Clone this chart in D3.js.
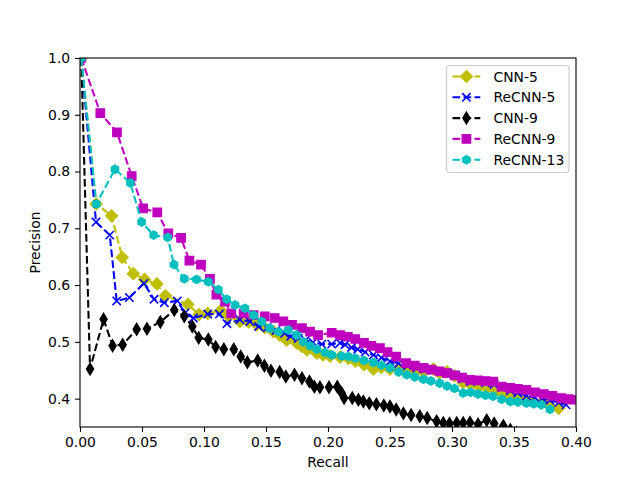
<!DOCTYPE html>
<html>
<head>
<meta charset="utf-8">
<script src="https://cdn.jsdelivr.net/npm/d3@7"></script>
<style>
  body { margin: 0; background: #fff; }
  svg { font-family: "DejaVu Sans", sans-serif; }
</style>
</head>
<body>
<svg id="chart" width="640" height="480"></svg>
<script>
// Series names (legend order)
const seriesNames = ["CNN-5", "ReCNN-5", "CNN-9", "ReCNN-9", "ReCNN-13"];

// CNN-5
const cnn5Recall = [0.001, 0.013, 0.0255, 0.034, 0.043, 0.052, 0.062, 0.069, 0.087, 0.096, 0.103, 0.1135, 0.12, 0.129, 0.136, 0.1425, 0.149, 0.156, 0.161, 0.1667, 0.1747, 0.179, 0.183, 0.191, 0.196, 0.2016, 0.2097, 0.2164, 0.222, 0.229, 0.2366, 0.243, 0.25, 0.257, 0.263, 0.27, 0.277, 0.285, 0.29, 0.296, 0.302, 0.309, 0.315, 0.322, 0.328, 0.335, 0.341, 0.347, 0.353, 0.359, 0.365, 0.372, 0.378, 0.386];
const cnn5Precision = [1.0, 0.743, 0.722, 0.649, 0.620, 0.610, 0.602, 0.581, 0.566, 0.548, 0.550, 0.555, 0.545, 0.536, 0.535, 0.530, 0.525, 0.518, 0.512, 0.503, 0.498, 0.492, 0.486, 0.480, 0.477, 0.475, 0.473, 0.471, 0.466, 0.460, 0.452, 0.455, 0.452, 0.453, 0.448, 0.447, 0.447, 0.452, 0.445, 0.447, 0.440, 0.428, 0.425, 0.421, 0.419, 0.413, 0.408, 0.404, 0.401, 0.398, 0.395, 0.392, 0.389, 0.383];

// ReCNN-5
const recnn5Recall = [0.001, 0.0129, 0.024, 0.0296, 0.0398, 0.0516, 0.0597, 0.068, 0.0785, 0.0847, 0.0914, 0.103, 0.1124, 0.1185, 0.129, 0.137, 0.144, 0.151, 0.158, 0.165, 0.17, 0.176, 0.182, 0.188, 0.195, 0.203, 0.2097, 0.2137, 0.219, 0.224, 0.23, 0.2366, 0.243, 0.25, 0.257, 0.264, 0.2715, 0.278, 0.284, 0.29, 0.297, 0.303, 0.309, 0.315, 0.321, 0.327, 0.334, 0.34, 0.347, 0.353, 0.36, 0.367, 0.373, 0.379, 0.386, 0.392];
const recnn5Precision = [1.0, 0.711, 0.688, 0.572, 0.578, 0.603, 0.575, 0.569, 0.572, 0.551, 0.542, 0.549, 0.549, 0.532, 0.539, 0.536, 0.527, 0.525, 0.520, 0.515, 0.510, 0.506, 0.503, 0.499, 0.496, 0.496, 0.498, 0.495, 0.490, 0.487, 0.482, 0.477, 0.472, 0.466, 0.462, 0.458, 0.454, 0.452, 0.450, 0.448, 0.444, 0.441, 0.435, 0.430, 0.431, 0.428, 0.425, 0.420, 0.414, 0.410, 0.405, 0.402, 0.400, 0.397, 0.393, 0.389];

// CNN-9
const cnn9Recall = [0.001, 0.0081, 0.019, 0.0263, 0.0344, 0.0457, 0.054, 0.0648, 0.076, 0.0841, 0.0906, 0.0957, 0.1035, 0.1094, 0.116, 0.124, 0.1296, 0.135, 0.1433, 0.1487, 0.154, 0.161, 0.166, 0.173, 0.179, 0.185, 0.189, 0.1935, 0.2008, 0.2075, 0.211, 0.213, 0.2196, 0.2245, 0.2285, 0.2333, 0.239, 0.245, 0.25, 0.255, 0.2608, 0.267, 0.274, 0.28, 0.2876, 0.293, 0.298, 0.3038, 0.309, 0.3145, 0.321, 0.328, 0.334, 0.3414, 0.347, 0.352];
const cnn9Precision = [1.0, 0.452, 0.540, 0.493, 0.495, 0.522, 0.523, 0.535, 0.556, 0.545, 0.527, 0.507, 0.504, 0.491, 0.487, 0.487, 0.474, 0.464, 0.467, 0.458, 0.449, 0.447, 0.439, 0.442, 0.436, 0.430, 0.421, 0.420, 0.420, 0.421, 0.410, 0.401, 0.401, 0.398, 0.395, 0.392, 0.390, 0.388, 0.386, 0.381, 0.374, 0.371, 0.369, 0.366, 0.360, 0.357, 0.356, 0.357, 0.357, 0.358, 0.355, 0.362, 0.356, 0.352, 0.345, 0.340];

// ReCNN-9
const recnn9Recall = [0.001, 0.0164, 0.0298, 0.0417, 0.051, 0.0623, 0.0712, 0.0815, 0.0882, 0.0976, 0.1048, 0.110, 0.117, 0.122, 0.132, 0.140, 0.149, 0.157, 0.164, 0.171, 0.179, 0.1855, 0.192, 0.203, 0.2097, 0.216, 0.222, 0.229, 0.235, 0.2419, 0.248, 0.255, 0.263, 0.27, 0.277, 0.283, 0.29, 0.296, 0.302, 0.308, 0.3145, 0.321, 0.327, 0.3333, 0.34, 0.347, 0.353, 0.36, 0.367, 0.374, 0.381, 0.388, 0.394, 0.398];
const recnn9Precision = [1.0, 0.903, 0.869, 0.792, 0.735, 0.728, 0.691, 0.683, 0.643, 0.636, 0.611, 0.583, 0.571, 0.550, 0.550, 0.547, 0.545, 0.542, 0.536, 0.530, 0.524, 0.518, 0.512, 0.516, 0.512, 0.509, 0.505, 0.498, 0.493, 0.489, 0.482, 0.474, 0.4625, 0.458, 0.454, 0.451, 0.448, 0.445, 0.441, 0.437, 0.433, 0.432, 0.431, 0.430, 0.421, 0.419, 0.417, 0.4155, 0.411, 0.408, 0.405, 0.401, 0.399, 0.398];

// ReCNN-13
const recnn13Recall = [0.001, 0.0132, 0.0282, 0.0406, 0.0497, 0.0594, 0.0707, 0.0758, 0.0841, 0.094, 0.1035, 0.1116, 0.1183, 0.125, 0.133, 0.14, 0.1465, 0.153, 0.16, 0.168, 0.1747, 0.18, 0.1855, 0.191, 0.1976, 0.203, 0.211, 0.2164, 0.222, 0.229, 0.2366, 0.243, 0.25, 0.257, 0.2635, 0.27, 0.277, 0.283, 0.29, 0.296, 0.302, 0.309, 0.315, 0.321, 0.327, 0.333, 0.34, 0.347, 0.353, 0.36, 0.366, 0.372, 0.379];
const recnn13Precision = [1.0, 0.743, 0.804, 0.780, 0.711, 0.688, 0.684, 0.636, 0.611, 0.610, 0.606, 0.592, 0.575, 0.565, 0.559, 0.547, 0.536, 0.524, 0.518, 0.521, 0.512, 0.500, 0.493, 0.487, 0.481, 0.477, 0.475, 0.474, 0.471, 0.467, 0.4636, 0.459, 0.454, 0.447, 0.442, 0.438, 0.434, 0.431, 0.427, 0.422, 0.418, 0.410, 0.411, 0.408, 0.406, 0.404, 0.399, 0.395, 0.394, 0.392, 0.391, 0.389, 0.381];

// Tick values
const xTicks = [0, 0.05, 0.10, 0.15, 0.20, 0.25, 0.30, 0.35, 0.40];
const yTicks = [0.4, 0.5, 0.6, 0.7, 0.8, 0.9, 1.0];

const series = [
    { name: seriesNames[0], x: cnn5Recall, y: cnn5Precision, color: "#bfbf00", marker: "D" },
    { name: seriesNames[1], x: recnn5Recall, y: recnn5Precision, color: "#0000ff", marker: "x" },
    { name: seriesNames[2], x: cnn9Recall, y: cnn9Precision, color: "#000000", marker: "d" },
    { name: seriesNames[3], x: recnn9Recall, y: recnn9Precision, color: "#bf00bf", marker: "s" },
    { name: seriesNames[4], x: recnn13Recall, y: recnn13Precision, color: "#00bfbf", marker: "h" }
];

const svg = d3.select("svg#chart");
const plotLeft = 80, plotRight = 576, plotTop = 58, plotBottom = 427;

const xScale = d3.scaleLinear().domain([0, 0.4]).range([plotLeft, plotRight]);
const yScale = d3.scaleLinear().domain([0.35, 1.0]).range([plotBottom, plotTop]);

// marker size in px (matplotlib 6pt at 100dpi)
const ms = 8.33;

// marker path centred on 0,0
function markerPath(type) {
    const h = ms / 2;
    if (type === "s") return `M${-h},${-h}H${h}V${h}H${-h}Z`;
    if (type === "D") {
        const r = ms * Math.SQRT1_2;
        return `M0,${-r}L${r},0L0,${r}L${-r},0Z`;
    }
    if (type === "d") {
        const r = ms * Math.SQRT1_2;
        return `M0,${-r}L${r * 0.6},0L0,${r}L${-r * 0.6},0Z`;
    }
    if (type === "x") return `M${-h},${-h}L${h},${h}M${-h},${h}L${h},${-h}`;
    if (type === "h") {
        const pts = d3.range(6).map(i => {
            const a = -Math.PI / 2 + i * Math.PI / 3;
            return [h * Math.cos(a), h * Math.sin(a)];
        });
        return "M" + pts.map(p => p.join(",")).join("L") + "Z";
    }
    return "";
}

// clip area
svg.append("defs").append("clipPath").attr("id", "plot-clip")
    .append("rect")
    .attr("x", plotLeft).attr("y", plotTop)
    .attr("width", plotRight - plotLeft).attr("height", plotBottom - plotTop);

const plot = svg.append("g").attr("clip-path", "url(#plot-clip)");

const line = d3.line()
    .x(d => xScale(d[0]))
    .y(d => yScale(d[1]));

series.forEach(s => {
    const pts = s.x.map((v, i) => [v, s.y[i]]);
    const g = plot.append("g").attr("class", "series");

    g.append("path")
        .datum(pts)
        .attr("d", line)
        .attr("fill", "none")
        .attr("stroke", s.color)
        .attr("stroke-width", 2.08)
        .attr("stroke-dasharray", "7.7,3.3");

    g.selectAll("path.marker")
        .data(pts)
        .enter()
        .append("path")
        .attr("class", "marker")
        .attr("transform", d => `translate(${xScale(d[0])},${yScale(d[1])})`)
        .attr("d", markerPath(s.marker))
        .attr("fill", s.marker === "x" ? "none" : s.color)
        .attr("stroke", s.color)
        .attr("stroke-width", s.marker === "x" ? 1.6 : 1.39);
});

// axes
const xAxis = d3.axisBottom(xScale).tickValues(xTicks).tickFormat(d3.format(".2f")).tickSize(4.9).tickPadding(4.9);
const yAxis = d3.axisLeft(yScale).tickValues(yTicks).tickFormat(d3.format(".1f")).tickSize(4.9).tickPadding(4.9);

const gx = svg.append("g").attr("transform", `translate(0,${plotBottom})`).call(xAxis);
const gy = svg.append("g").attr("transform", `translate(${plotLeft},0)`).call(yAxis);

[gx, gy].forEach(g => {
    g.select(".domain").remove();
    g.selectAll(".tick line").attr("stroke", "#000").attr("stroke-width", 1.1);
    g.selectAll(".tick text")
        .attr("fill", "#000")
        .style("font-size", "13.9px")
        .style("font-family", "DejaVu Sans");
});

// frame
svg.append("rect")
    .attr("x", plotLeft).attr("y", plotTop)
    .attr("width", plotRight - plotLeft).attr("height", plotBottom - plotTop)
    .attr("fill", "none")
    .attr("stroke", "#000")
    .attr("stroke-width", 1.1);

// axis labels
svg.append("text")
    .attr("x", (plotLeft + plotRight) / 2)
    .attr("y", 467)
    .attr("text-anchor", "middle")
    .style("font-size", "13.9px")
    .text("Recall");

svg.append("text")
    .attr("transform", `translate(40,${(plotTop + plotBottom) / 2}) rotate(-90)`)
    .attr("text-anchor", "middle")
    .style("font-size", "13.9px")
    .text("Precision");

// legend
const legend = svg.append("g").attr("class", "legend");
legend.append("rect")
    .attr("x", 446.5).attr("y", 65.5)
    .attr("width", 122.5).attr("height", 107)
    .attr("rx", 3).attr("ry", 3)
    .attr("fill", "#fff").attr("fill-opacity", 0.8)
    .attr("stroke", "#cccccc").attr("stroke-width", 1.1);

const item = legend.selectAll("g.legend-item")
    .data(series)
    .enter()
    .append("g")
    .attr("class", "legend-item")
    .attr("transform", (d, i) => `translate(0,${76.5 + i * 20.8})`);

item.append("line")
    .attr("x1", 452.5).attr("x2", 480.3)
    .attr("stroke", d => d.color)
    .attr("stroke-width", 2.08)
    .attr("stroke-dasharray", "7.7,3.3");

item.append("path")
    .attr("transform", "translate(466.4,0)")
    .attr("d", d => markerPath(d.marker))
    .attr("fill", d => d.marker === "x" ? "none" : d.color)
    .attr("stroke", d => d.color)
    .attr("stroke-width", d => d.marker === "x" ? 1.6 : 1.39);

item.append("text")
    .attr("x", 493.5)
    .attr("dy", "0.36em")
    .style("font-size", "13.9px")
    .text(d => d.name);
</script>
</body>
</html>
